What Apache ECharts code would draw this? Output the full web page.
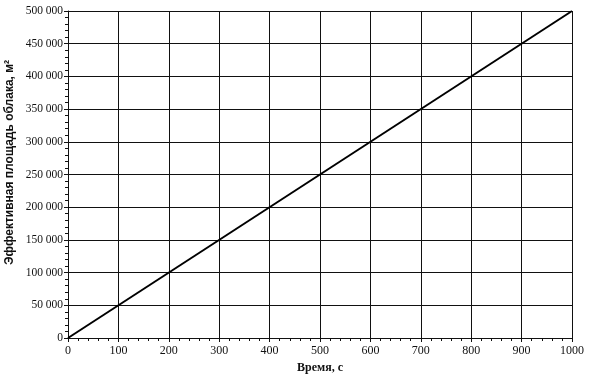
<!DOCTYPE html>
<html>
<head>
<meta charset="utf-8">
<script src="https://cdn.jsdelivr.net/npm/echarts@6/dist/echarts.min.js"></script>
<style>
  html, body { margin: 0; padding: 0; background: #fff; }
  #chart { width: 591px; height: 378px; }
</style>
</head>
<body>
<div id="chart"></div>
<script>
var timeData = [0, 1000];
var areaData = [0, 500000];
var xTitle = "Время, с";
var yTitle = "Эффективная площадь облака, м²";

var chart = echarts.init(document.getElementById("chart"));
var font = "Liberation Serif";
chart.setOption({
  animation: false,
  grid: { left: 68, right: 19, top: 11, bottom: 40, outerBoundsMode: "none", containLabel: false },
  xAxis: {
    type: "value",
    min: 0,
    max: 1000,
    interval: 100,
    name: xTitle,
    nameLocation: "middle",
    nameGap: 24,
    nameMoveOverlap: false,
    nameTextStyle: { color: "#111", fontFamily: font, fontSize: 12, fontWeight: "bold" },
    axisLine: { show: true, lineStyle: { color: "#111", width: 1 } },
    axisTick: { show: true, length: 4, lineStyle: { color: "#111" } },
    minorTick: { show: true, splitNumber: 5, length: 3, lineStyle: { color: "#111" } },
    axisLabel: {
      color: "#111", fontFamily: font, fontSize: 12, margin: 7,
      formatter: function (v) { return String(v); }
    },
    splitLine: { show: true, lineStyle: { color: "#111", width: 1 } }
  },
  yAxis: {
    type: "value",
    min: 0,
    max: 500000,
    interval: 50000,
    name: yTitle,
    nameLocation: "middle",
    nameGap: 52,
    nameMoveOverlap: false,
    nameTextStyle: {
      color: "#111", fontFamily: "Liberation Sans Narrow, Liberation Sans", fontSize: 12,
      fontWeight: "bold", padding: [0, 0, 0, 24]
    },
    axisLine: { show: true, lineStyle: { color: "#111", width: 1 } },
    axisTick: { show: true, length: 4, lineStyle: { color: "#111" } },
    minorTick: { show: true, splitNumber: 5, length: 3, lineStyle: { color: "#111" } },
    axisLabel: {
      color: "#111", fontFamily: font, fontSize: 11.5, margin: 5,
      formatter: function (v) { return String(v).replace(/\B(?=(\d{3})+(?!\d))/g, " "); }
    },
    splitLine: { show: true, lineStyle: { color: "#111", width: 1 } }
  },
  series: [{
    type: "line",
    data: timeData.map(function (t, i) { return [t, areaData[i]]; }),
    symbol: "none",
    lineStyle: { color: "#000", width: 2 }
  }]
});
</script>
</body>
</html>
